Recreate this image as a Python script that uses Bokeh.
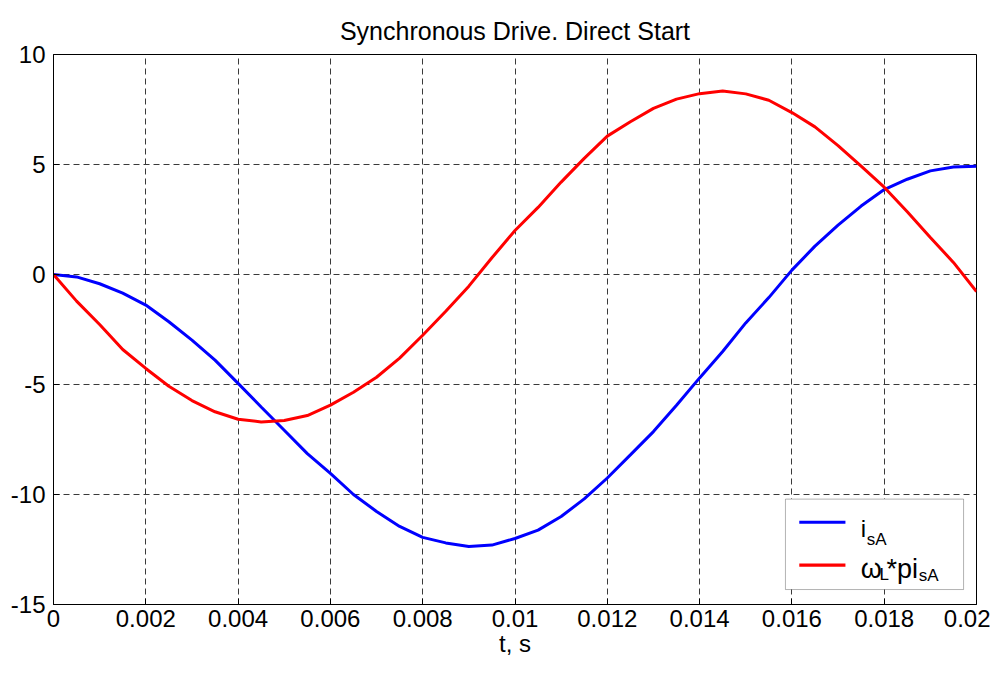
from bokeh.plotting import figure
from bokeh.models import (Range1d, FixedTicker, CustomJSTickFormatter,
                          BoxAnnotation, Label, ColumnDataSource)
from bokeh.embed import file_html
from bokeh.resources import INLINE

# ---- data ----
t = [0.0, 0.0005, 0.001, 0.0015, 0.002, 0.0025, 0.003, 0.0035, 0.004, 0.0045,
     0.005, 0.0055, 0.006, 0.0065, 0.007, 0.0075, 0.008, 0.0085, 0.009, 0.0095,
     0.010, 0.0105, 0.011, 0.0115, 0.012, 0.0125, 0.013, 0.0135, 0.014, 0.0145,
     0.015, 0.0155, 0.016, 0.0165, 0.017, 0.0175, 0.018, 0.0185, 0.019, 0.0195, 0.020]

i_sA = [0.0, -0.11, -0.42, -0.85, -1.39, -2.15, -2.98, -3.89, -4.95, -6.02,
        -7.08, -8.14, -9.04, -10.0, -10.77, -11.45, -11.95, -12.2, -12.36, -12.3,
        -12.0, -11.62, -11.0, -10.2, -9.25, -8.2, -7.14, -5.94, -4.7, -3.5,
        -2.2, -1.05, 0.2, 1.29, 2.24, 3.11, 3.86, 4.33, 4.71, 4.89, 4.92]

wL_pi_sA = [0.0, -1.21, -2.27, -3.41, -4.27, -5.08, -5.73, -6.24, -6.58, -6.7,
            -6.64, -6.41, -5.94, -5.35, -4.67, -3.8, -2.76, -1.67, -0.53, 0.76,
            2.0, 3.05, 4.2, 5.28, 6.29, 6.94, 7.55, 7.97, 8.22, 8.34,
            8.21, 7.92, 7.36, 6.71, 5.86, 4.93, 3.97, 2.85, 1.68, 0.55, -0.78]

x_ticks = [0.0, 0.002, 0.004, 0.006, 0.008, 0.010, 0.012, 0.014, 0.016, 0.018, 0.020]
y_ticks = [-15, -10, -5, 0, 5, 10]

title_text = "Synchronous Drive. Direct Start"
x_label = "t, s"

FONT = "Liberation Sans"

p = figure(width=990, height=659, output_backend="svg", toolbar_location=None,
           x_range=Range1d(0, 0.02), y_range=Range1d(-15, 10),
           min_border_left=53, min_border_right=14, min_border_top=54, min_border_bottom=50)

p.title.text = title_text
p.title.align = "center"
p.title.text_font = FONT
p.title.text_font_size = "25px"
p.title.text_font_style = "normal"
p.title.text_color = "black"
p.title.standoff = 20

src = ColumnDataSource(dict(t=t, i=i_sA, w=wL_pi_sA))
p.line("t", "i", source=src, line_color="#0000FF", line_width=3)
p.line("t", "w", source=src, line_color="#FF0000", line_width=3)

fmt = CustomJSTickFormatter(code="return String(parseFloat(tick.toFixed(4)));")

xa = p.xaxis[0]
xa.ticker = FixedTicker(ticks=x_ticks)
xa.formatter = fmt
xa.axis_label = x_label
ya = p.yaxis[0]
ya.ticker = FixedTicker(ticks=y_ticks)
ya.formatter = CustomJSTickFormatter(code="return String(Math.round(tick));")

for ax in (xa, ya):
    ax.major_label_text_font = FONT
    ax.major_label_text_font_size = "24px"
    ax.major_label_text_color = "black"
    ax.axis_label_text_font = FONT
    ax.axis_label_text_font_size = "24px"
    ax.axis_label_text_font_style = "normal"
    ax.axis_label_text_color = "black"
    ax.major_tick_in = 6
    ax.major_tick_out = 0
    ax.minor_tick_line_color = None
    ax.axis_line_color = "black"
    ax.major_tick_line_color = "black"
    ax.axis_line_width = 1
xa.major_label_standoff = 5
xa.axis_label_standoff = 0
ya.major_label_standoff = 8

p.xgrid.ticker = FixedTicker(ticks=x_ticks)
p.ygrid.ticker = FixedTicker(ticks=y_ticks)
for g in (p.xgrid[0], p.ygrid[0]):
    g.grid_line_color = "#3a3a3a"
    g.grid_line_dash = "6 4"
    g.grid_line_width = 1

p.outline_line_color = "black"
p.outline_line_width = 1
p.background_fill_color = "white"
p.border_fill_color = "white"

# ---- legend (drawn manually to allow subscripts) ----
p.add_layout(BoxAnnotation(left=0.01586, right=0.01972, top=-10.21, bottom=-14.32,
                           fill_color="white", fill_alpha=1.0,
                           line_color="black", line_width=1))
p.add_layout(BoxAnnotation(left=0.01616, right=0.01716, top=-11.19, bottom=-11.33,
                           fill_color="#0000FF", fill_alpha=1.0, line_color=None))
p.add_layout(BoxAnnotation(left=0.01616, right=0.01716, top=-13.14, bottom=-13.28,
                           fill_color="#FF0000", fill_alpha=1.0, line_color=None))

def lab(x, y, txt, size):
    p.add_layout(Label(x=x, y=y, text=txt, text_font=FONT, text_font_size=size,
                       text_color="black", text_align="left", text_baseline="alphabetic"))

lab(0.01749, -11.56, "i", "24px")
lab(0.01762, -12.06, "sA", "17px")
lab(0.01749, -13.37, "\u03c9", "27px")
lab(0.01790, -13.64, "L", "17px")
lab(0.01805, -13.37, "*pi", "27px")
lab(0.01875, -13.69, "sA", "17px")

open("out.html", "w").write(file_html(p, INLINE))
